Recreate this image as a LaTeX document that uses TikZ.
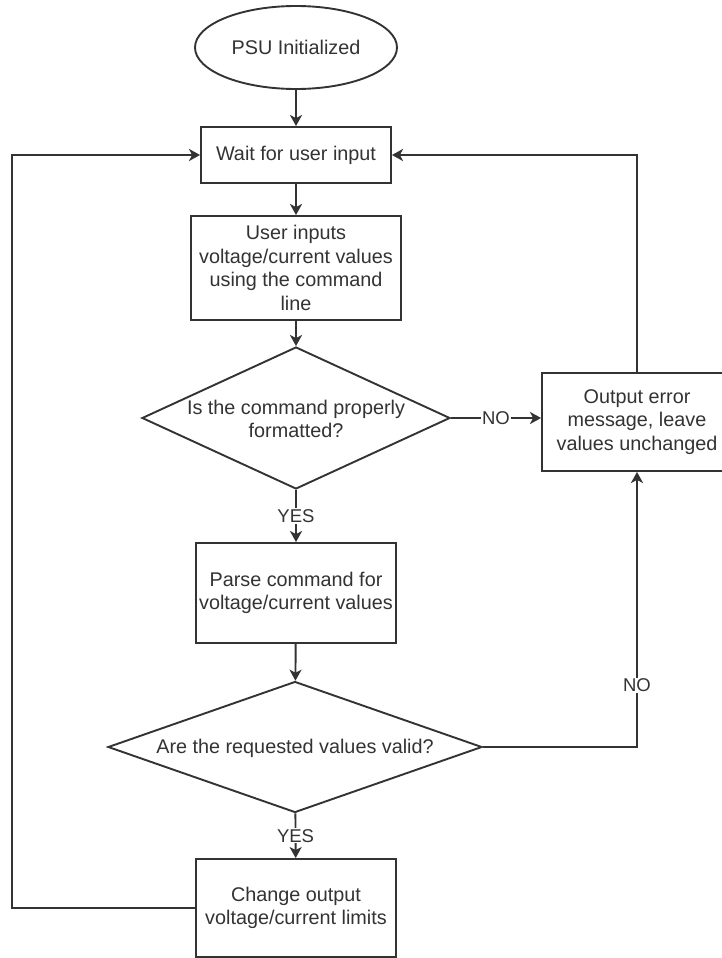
\documentclass[tikz,border=0pt]{standalone}
\usepackage{fontspec}
\setmainfont{Liberation Sans}
\usetikzlibrary{shapes.geometric,arrows.meta}
\definecolor{ink}{HTML}{333333}
\definecolor{wire}{HTML}{333333}
\begin{document}
\begin{tikzpicture}[x=1pt,y=-1pt,
  every node/.style={font=\fontsize{19.8}{23.5}\selectfont, text=ink},
  box/.style={draw=wire, line width=1.9pt, rectangle, align=center, inner sep=2pt},
  terminal/.style={draw=wire, line width=1.9pt, ellipse, inner sep=0pt},
  decision/.style={draw=wire, line width=1.9pt, diamond, inner sep=0pt},
  txt/.style={align=center, text=ink},
  flow/.style={draw=wire, line width=1.9pt, -{Stealth[length=11pt,width=12pt,inset=3pt]}},
  wirelabel/.style={fill=white, inner sep=1pt, font=\fontsize{18.5}{20}\selectfont}
]
% page frame
\clip (0,0) rectangle (722,958);
\fill[white] (0,0) rectangle (722,958);

% nodes
\node[terminal, minimum width=202pt, minimum height=83pt] (start) at (296,47.5) {PSU Initialized};
\node[box, minimum width=190pt, minimum height=56pt] (wait) at (296,155) {Wait for user input};
\node[box, minimum width=210pt, minimum height=104pt] (input) at (296,268)
  {User inputs\\voltage/current values\\using the command\\line};
\node[decision, minimum width=308pt, minimum height=142pt] (fmt) at (296,418) {};
\node[txt] (fmttext) at (296,419) {Is the command properly\\formatted?};
\node[box, minimum width=200pt, minimum height=100pt] (parse) at (296,593)
  {Parse command for\\voltage/current values};
\node[decision, minimum width=374pt, minimum height=131pt] (valid) at (295,747) {};
\node[txt] (validtext) at (295,748) {Are the requested values valid?};
\node[box, minimum width=200pt, minimum height=98pt] (change) at (296,908)
  {Change output\\voltage/current limits};
\node[box, minimum width=190pt, minimum height=98pt] (err) at (637,422)
  {Output error\\message, leave\\values unchanged};
\coordinate (loopL) at (12,155);

% connectors
\draw[flow] (start) -- (wait);
\draw[flow] (wait) -- (input);
\draw[flow] (input) -- (fmt);
\draw[flow] (fmt) -- node[wirelabel] (yes1) {YES} (parse);
\draw[flow] (fmt.east) -- node[wirelabel] (no1) {NO} (fmt.east -| err.west);
\draw[flow] (err.north) |- (wait.east);
\draw[flow] (parse) -- (valid);
\draw[flow] (valid) -- node[wirelabel] (yes2) {YES} (change);
\draw[flow] (valid.east) -| node[wirelabel, pos=0.612] (no2) {NO} (err.south);
\draw[flow] (change.west) -| (loopL) -- (wait.west);
\end{tikzpicture}
\end{document}
